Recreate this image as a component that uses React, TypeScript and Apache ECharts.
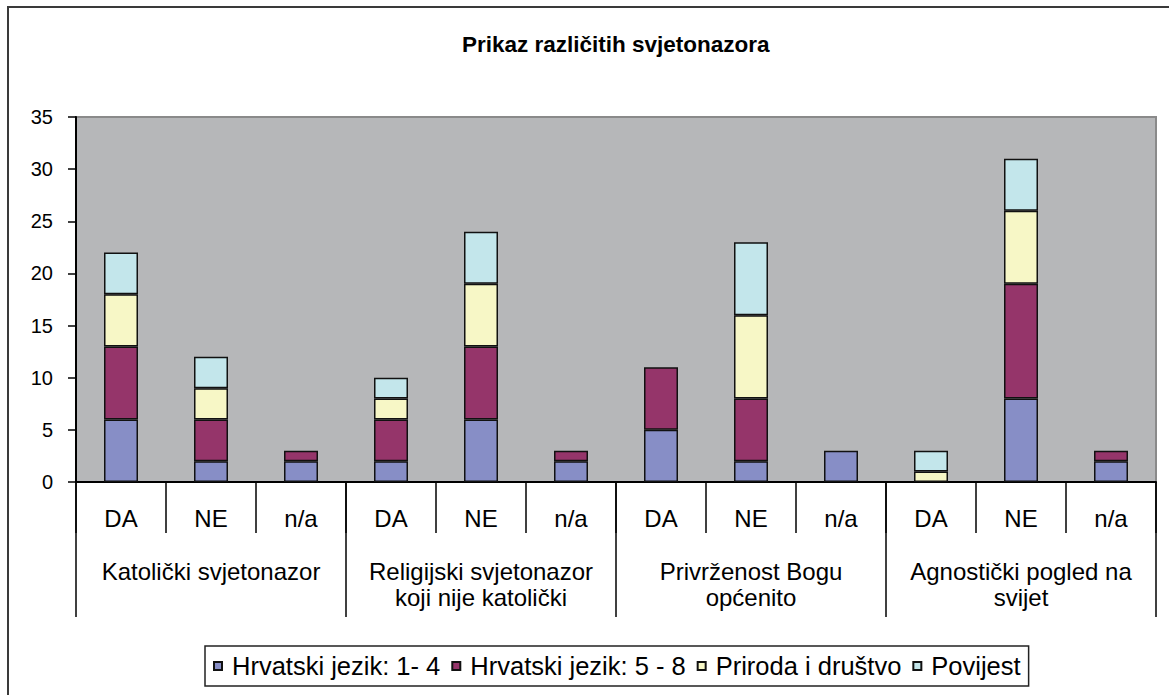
import React, { useEffect, useRef } from "react";
import * as echarts from "echarts";

const titleText = "Prikaz različitih svjetonazora";
const subCategories = ["DA", "NE", "n/a", "DA", "NE", "n/a", "DA", "NE", "n/a", "DA", "NE", "n/a"];
const groupCategories = [
  "Katolički svjetonazor",
  "Religijski svjetonazor\nkoji nije katolički",
  "Privrženost Bogu\nopćenito",
  "Agnostički pogled na\nsvijet",
];
const seriesNames = ["Hrvatski jezik: 1- 4", "Hrvatski jezik: 5 - 8", "Priroda i društvo", "Povijest"];
const hrvatski14 = [6, 2, 2, 2, 6, 2, 5, 2, 3, 0, 8, 2];
const hrvatski58 = [7, 4, 1, 4, 7, 1, 6, 6, 0, 0, 11, 1];
const prirodaDrustvo = [5, 3, 0, 2, 6, 0, 0, 8, 0, 1, 7, 0];
const povijest = [4, 3, 0, 2, 5, 0, 0, 7, 0, 2, 5, 0];
const seriesColors = ["#878EC6", "#95356A", "#F7F7C6", "#C3E6EB"];

const FONT = "'Liberation Sans', Arial, sans-serif";

export default function App() {
  const ref = useRef<HTMLDivElement>(null);
  useEffect(() => {
    if (!ref.current) return;
    const chart = echarts.init(ref.current, null, { renderer: "svg" });
    const values = [hrvatski14, hrvatski58, prirodaDrustvo, povijest];
    chart.setOption({
      animation: false,
      backgroundColor: "#ffffff",
      textStyle: { fontFamily: FONT },
      title: {
        text: titleText,
        left: 457,
        top: 28,
        textStyle: { fontFamily: FONT, fontSize: 22.5, fontWeight: "bold", color: "#000" },
      },
      graphic: [
        {
          type: "rect",
          shape: { x: 8, y: 7, width: 1200, height: 720 },
          style: { fill: "none", stroke: "#3a3a3a", lineWidth: 2 },
          silent: true,
          z: 100,
        },
      ],
      legend: {
        left: 205,
        top: 646,
        padding: [7, 8, 7, 8],
        borderColor: "#222",
        borderWidth: 1.5,
        itemGap: 11,
        itemWidth: 8,
        itemHeight: 8,
        icon: "rect",
        textStyle: { fontFamily: FONT, fontSize: 25.5, color: "#000", padding: [0, 0, 0, 5] },
        data: seriesNames,
      },
      grid: { left: 76, top: 117, width: 1080, height: 365, show: true, backgroundColor: "#B6B7B9", borderColor: "#8a8a8a", borderWidth: 2 },
      xAxis: [
        {
          type: "category",
          data: subCategories,
          boundaryGap: true,
          axisLine: { show: true, lineStyle: { color: "#000", width: 2 } },
          axisTick: { show: true, interval: 0, length: 51, lineStyle: { color: "#000", width: 1.5 } },
          axisLabel: { interval: 0, margin: 24, fontFamily: FONT, fontSize: 24, color: "#000" },
        },
        {
          type: "category",
          data: groupCategories,
          position: "bottom",
          boundaryGap: true,
          axisLine: { show: false },
          axisTick: { show: true, interval: 0, length: 135, lineStyle: { color: "#000", width: 1.5 } },
          axisLabel: { interval: 0, margin: 76, fontFamily: FONT, fontSize: 24, lineHeight: 26, color: "#000" },
        },
      ],
      yAxis: {
        type: "value",
        min: 0,
        max: 35,
        interval: 5,
        splitLine: { show: false },
        axisLine: { show: true, lineStyle: { color: "#000", width: 2 } },
        axisTick: { show: true, length: 8, lineStyle: { color: "#000", width: 1.5 } },
        axisLabel: { margin: 23, fontFamily: FONT, fontSize: 20, color: "#000" },
      },
      series: seriesNames.map((name, i) => ({
        name,
        type: "bar",
        stack: "total",
        xAxisIndex: 0,
        barWidth: 34,
        itemStyle: { color: seriesColors[i], borderColor: "#111", borderWidth: 1.5 },
        data: values[i].map((v) => (v === 0 ? "-" : v)),
      })),
    });
    return () => chart.dispose();
  }, []);
  return <div ref={ref} style={{ position: "absolute", left: 0, top: 0, width: 1169, height: 695 }} />;
}
